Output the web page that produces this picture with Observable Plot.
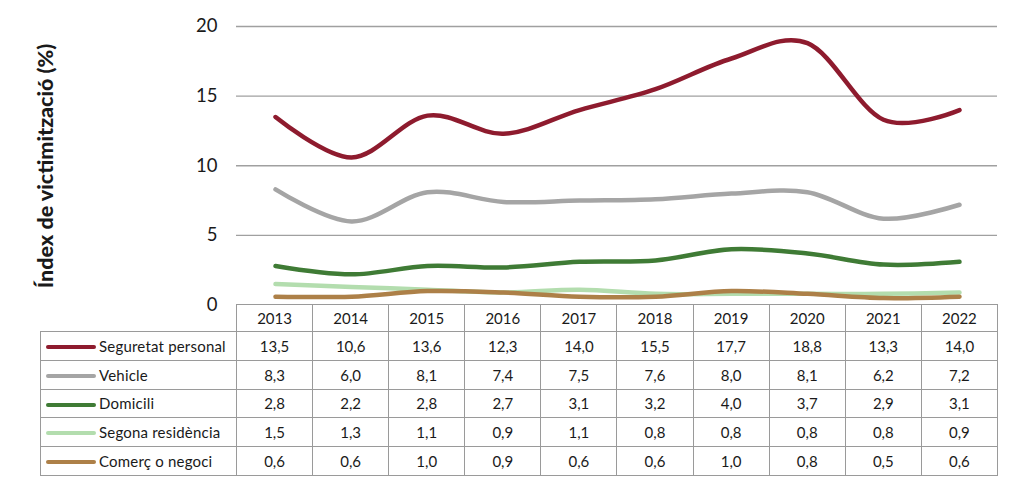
<!DOCTYPE html>
<html>
<head>
<meta charset="utf-8">
<script src="https://cdn.jsdelivr.net/npm/d3@7"></script>
<script src="https://cdn.jsdelivr.net/npm/@observablehq/plot@0.6"></script>
<style>
  html, body { margin: 0; padding: 0; background: #fff; }
  #wrap { position: relative; width: 1024px; height: 488px; font-family: Lato, "Open Sans", sans-serif; color: #1a1a1a; }
  #chart { position: absolute; left: 0; top: 0; }
  #ytitle { position: absolute; left: 45px; top: 166px; transform: translate(-50%, -50%) rotate(-90deg); white-space: nowrap; font-weight: 900; font-size: 21.5px; }
  #tbl { position: absolute; left: 40px; top: 304px; border-collapse: collapse; table-layout: fixed; font-size: 15px; }
  #tbl td { border: 1px solid #9a9a9a; text-align: center; padding: 0; height: 27.8px; }
  #tbl tr.head td { height: 26px; }
  #tbl td.blank { border: none; border-bottom: 1px solid #9a9a9a; }
  #tbl td.lab { text-align: left; white-space: nowrap; letter-spacing: 0.2px; }
  .sw { display: inline-block; width: 50px; height: 4px; border-radius: 2px; vertical-align: middle; margin: 0 3px 0 5px; position: relative; top: -1px; }
</style>
</head>
<body>
<div id="wrap">
  <div id="chart"></div>
  <div id="ytitle">Índex de victimització (%)</div>
  <table id="tbl"></table>
</div>
<script>
const years = ["2013","2014","2015","2016","2017","2018","2019","2020","2021","2022"];
const seriesNames = ["Seguretat personal","Vehicle","Domicili","Segona residència","Comerç o negoci"];
const colors = ["#8E1B2E","#A5A5A5","#3F7B35","#B3DDAE","#AD8048"];
const seguretatPersonal = [13.5,10.6,13.6,12.3,14.0,15.5,17.7,18.8,13.3,14.0];
const vehicle = [8.3,6.0,8.1,7.4,7.5,7.6,8.0,8.1,6.2,7.2];
const domicili = [2.8,2.2,2.8,2.7,3.1,3.2,4.0,3.7,2.9,3.1];
const segonaResidencia = [1.5,1.3,1.1,0.9,1.1,0.8,0.8,0.8,0.8,0.9];
const comercNegoci = [0.6,0.6,1.0,0.9,0.6,0.6,1.0,0.8,0.5,0.6];
const yTicks = [0,5,10,15,20];
const gridTicks = [5,10,15,20];

const allValues = [seguretatPersonal, vehicle, domicili, segonaResidencia, comercNegoci];
const data = [];
seriesNames.forEach((s, i) => years.forEach((y, j) => data.push({series: s, year: y, value: allValues[i][j]})));

const lineMarks = seriesNames.map((s, i) =>
  Plot.line(data.filter(d => d.series === s), {
    x: "year", y: "value", stroke: colors[i], strokeWidth: 4.5,
    strokeLinecap: "round", strokeLinejoin: "round",
    curve: "cardinal", tension: 0
  })
);

const chart = Plot.plot({
  width: 1024,
  height: 322,
  marginLeft: 236,
  marginRight: 27,
  marginTop: 26,
  marginBottom: 17.5,
  style: {fontFamily: "Lato, 'Open Sans', sans-serif", background: "transparent", overflow: "visible"},
  x: {type: "point", domain: years, padding: 0.5, axis: null},
  y: {domain: [0, 20], axis: null},
  marks: [
    Plot.ruleY(gridTicks, {stroke: "#a0a0a0", strokeWidth: 1.3, strokeOpacity: 1}),
    Plot.axisY({ticks: yTicks, tickSize: 0, tickPadding: 19, fontSize: 18.5, label: null, line: true, stroke: "#a0a0a0", color: "#1a1a1a", tickFormat: d => String(d)}),
    ...lineMarks
  ]
});
document.getElementById("chart").appendChild(chart);

// data table
const fmt = v => v.toFixed(1).replace(".", ",");
const tbl = document.getElementById("tbl");
const colg = document.createElement("colgroup");
const c0 = document.createElement("col"); c0.style.width = "196px"; colg.appendChild(c0);
years.forEach(() => { const c = document.createElement("col"); c.style.width = "76.1px"; colg.appendChild(c); });
tbl.appendChild(colg);
const head = document.createElement("tr"); head.className = "head";
const blank = document.createElement("td"); blank.className = "blank"; head.appendChild(blank);
years.forEach(y => { const td = document.createElement("td"); td.textContent = y; head.appendChild(td); });
tbl.appendChild(head);
seriesNames.forEach((s, i) => {
  const tr = document.createElement("tr");
  const lab = document.createElement("td"); lab.className = "lab";
  const sw = document.createElement("span"); sw.className = "sw"; sw.style.background = colors[i];
  lab.appendChild(sw); lab.appendChild(document.createTextNode(s));
  tr.appendChild(lab);
  allValues[i].forEach(v => { const td = document.createElement("td"); td.textContent = fmt(v); tr.appendChild(td); });
  tbl.appendChild(tr);
});
</script>
</body>
</html>
